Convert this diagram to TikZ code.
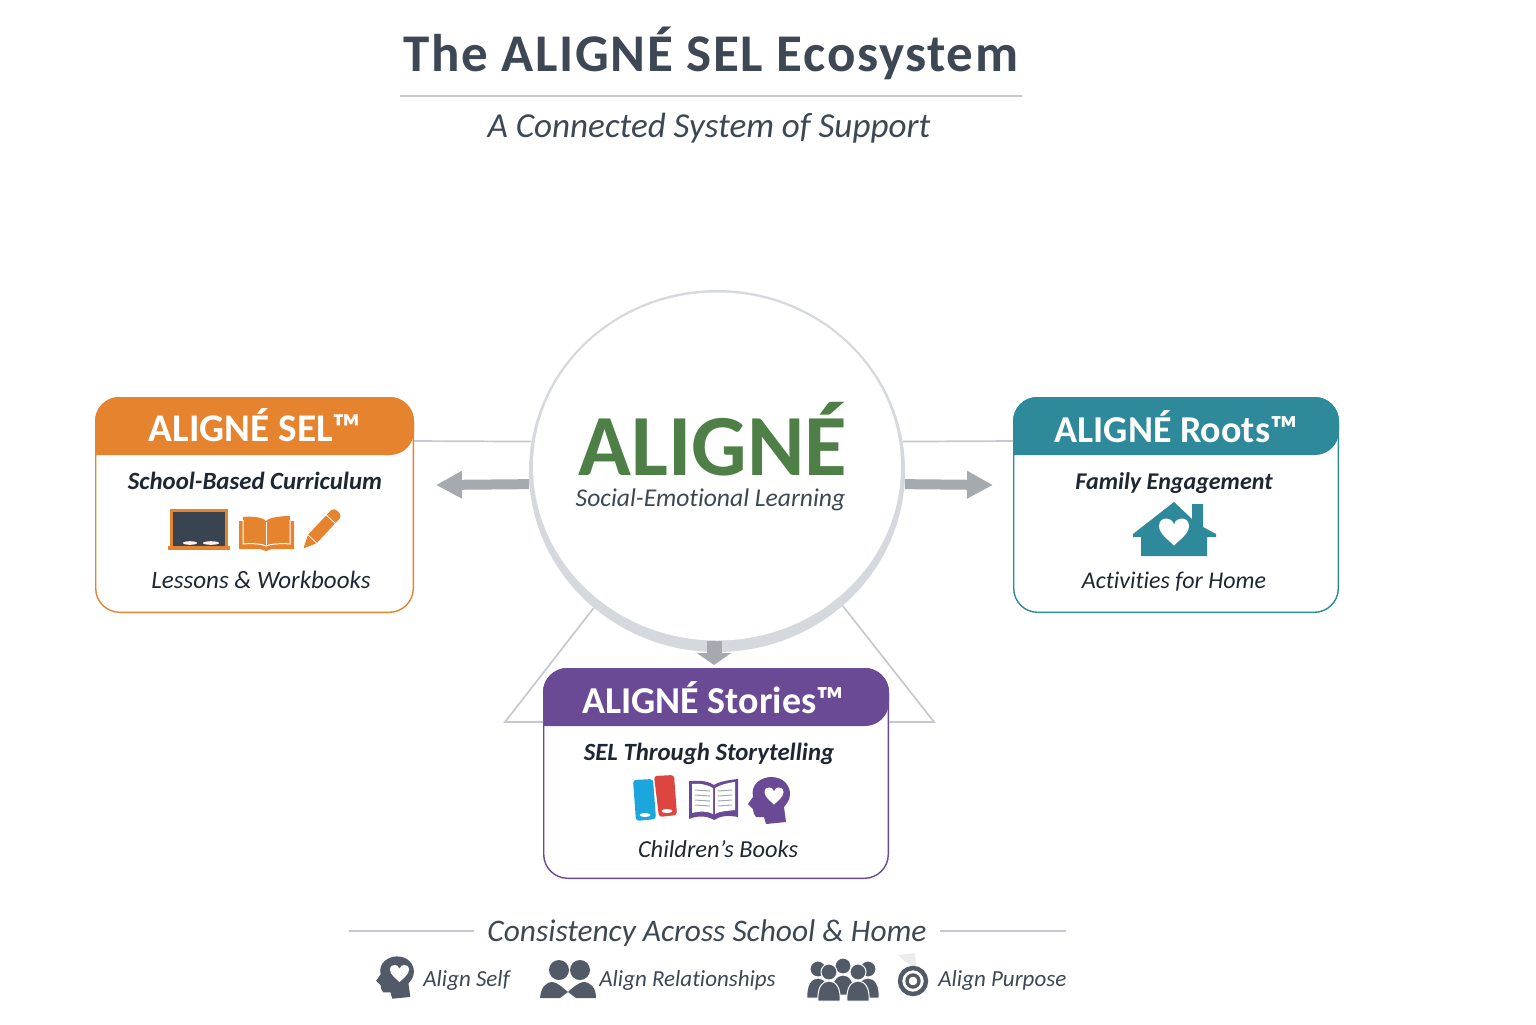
\documentclass[tikz,border=0pt]{standalone}
\usepackage{fontspec}
\setmainfont[Ligatures={TeX,NoCommon}]{Carlito}
\usepackage{xcolor}
\usepackage{tikz}
\usetikzlibrary{arrows.meta, positioning, shapes.geometric}

\definecolor{titlegray}{HTML}{3E4754}
\definecolor{rulegray}{HTML}{C5C9CF}
\definecolor{ringgray}{HTML}{D5D9DE}
\definecolor{arrowgray}{HTML}{A5A9B0}
\definecolor{inkdark}{HTML}{1F2733}
\definecolor{iconslate}{HTML}{515A66}
\definecolor{boarddark}{HTML}{3A4350}
\definecolor{selorange}{HTML}{E6832F}
\definecolor{rootsteal}{HTML}{2E8A9A}
\definecolor{storiespurple}{HTML}{6A4A94}
\definecolor{alignegreen}{HTML}{4E7F46}
\definecolor{bookblue}{HTML}{1BA6DD}
\definecolor{bookred}{HTML}{DD4540}

\newcommand{\headband}[3]{%
  \fill[#3, rounded corners=12pt] (#1.west |- #2) -- (#1.north west)
    -- (#1.north east) -- (#1.east |- #2) [sharp corners] -- cycle;}

\tikzset{
    pics/hearticon/.style={code={
        \fill[white] (0,9) .. controls (-4,5) and (-10,1) .. (-10,-4)
            .. controls (-10,-8) and (-7,-9) .. (-5,-9)
            .. controls (-3,-9) and (-1,-8) .. (0,-5)
            .. controls (1,-8) and (3,-9) .. (5,-9)
            .. controls (7,-9) and (10,-8) .. (10,-4)
            .. controls (10,1) and (4,5) .. (0,9) -- cycle;
    }},
    pics/headicon/.style={code={
        \fill[#1] (17,21) -- (-3,23) -- (-5,16) .. controls (-9,17) .. (-13,16)
            .. controls (-15,14) and (-16,11) .. (-16,8) -- (-21,3) -- (-16,-4)
            .. controls (-19,-18) and (-6,-24) .. (2,-24)
            .. controls (15,-24) and (21,-15) .. (21,-7)
            .. controls (21,0) and (17,3) .. (15,6) -- cycle;
        \pic[scale=.95] at (5,-5) {hearticon};
    }},
    pics/personicon/.style={code={
        \fill[iconslate, draw=white, line width=.5pt] (-11,17) .. controls (-12,4) and (-7,-3) .. (0,-3)
            .. controls (7,-3) and (12,4) .. (11,17) -- cycle;
        \fill[iconslate, draw=white, line width=.5pt] (0,-12) circle (8);
    }}
}

\begin{document}
\begin{tikzpicture}[
    x=.5pt, y=-.5pt,
    titletext/.style={font=\fontsize{26.5pt}{30pt}\bfseries\addfontfeature{LetterSpace=3}, text=titlegray},
    subtext/.style={font=\fontsize{17.55pt}{22pt}\itshape, text=titlegray},
    hub/.style={ellipse, minimum width=188pt, minimum height=181pt, inner sep=0pt},
    card/.style={draw, line width=.7pt, fill=white, rounded corners=12pt, minimum height=107.3pt},
    headtext/.style={font=\fontsize{19pt}{22pt}\bfseries, text=white},
    tagtext/.style={font=\fontsize{12.4pt}{16pt}\bfseries\itshape, text=inkdark},
    itemtext/.style={font=\fontsize{12.2pt}{16pt}\itshape, text=inkdark},
    alignlabel/.style={font=\fontsize{11.5pt}{14pt}\itshape, text=titlegray, anchor=west, inner sep=0pt},
    thinline/.style={draw=rulegray, line width=.85pt},
    arrow/.style={-{Triangle[width=13pt,length=13pt]}, draw=arrowgray, fill=arrowgray, line width=5pt}
]
\useasboundingbox (0,0) rectangle (1536,1024);

% title
\node[titletext] (title) at (711,53) {The ALIGNÉ SEL Ecosystem};
\coordinate (ruleleft) at (400,96);
\coordinate (ruleright) at (1022,96);
\draw[thinline] (ruleleft) -- (ruleright);
\node[subtext] (subtitle) at (709,128) {A Connected System of Support};

% centre
\node[hub, fill=ringgray] (hubring) at (717,471) {};
\node[hub, fill=white, minimum width=184pt, minimum height=174pt] (hubface) at (717,466.5) {};

% cards
\node[card, draw=selorange, minimum width=158.8pt] (selbox) at (254.5,505) {};
\node[card, draw=rootsteal, minimum width=162.3pt] (rootsbox) at (1176,505) {};
\node[card, draw=storiespurple, minimum width=172.3pt, minimum height=104.8pt] (storiesbox) at (716,773.5) {};
\coordinate (selband) at (254.5,455);
\coordinate (rootsband) at (1176,455);
\coordinate (storiesband) at (716,726);
\headband{selbox}{selband}{selorange}
\headband{rootsbox}{rootsband}{rootsteal}
\headband{storiesbox}{storiesband}{storiespurple}

% thin links
\coordinate (sellink) at (414,441);
\coordinate (rootslink) at (1013,441);
\coordinate (trileft) at (505,722);
\coordinate (triright) at (934,722);
\draw[thinline] (hubring.171) -- (sellink);
\draw[thinline] (hubring.9) -- (rootslink);
\draw[thinline] (hubring.228) -- (trileft) -- (trileft -| storiesbox.west);
\draw[thinline] (hubring.-47) -- (triright) -- (triright -| storiesbox.east);

% thick arrows
\coordinate (selarrow) at (436,485);
\coordinate (rootsarrow) at (993,485);
\coordinate (storiesarrow) at (714,665);
\draw[arrow] (hubring.184) -- (selarrow);
\draw[arrow] (hubring.-4) -- (rootsarrow);
\draw[arrow, line width=7.5pt, -{Triangle[width=17pt,length=6pt]}] (hubface.south -| storiesarrow) -- (storiesarrow);

% centre text
\node[font=\fontsize{43.6pt}{44pt}\bfseries, text=alignegreen, inner sep=0pt] (hubname) at (713,439) {ALIGNÉ};
\node[font=\fontsize{12.8pt}{16pt}\itshape, text=titlegray, inner sep=0pt] (hubtag) at (710.5,500) {Social-Emotional Learning};

% orange card
\node[headtext, font=\fontsize{19.6pt}{22pt}\bfseries] (selhead) at (255,425) {ALIGNÉ SEL™};
\node[tagtext] (seltag) at (255,481) {School-Based Curriculum};
\node[itemtext, font=\fontsize{12.5pt}{16pt}\itshape] (selitem) at (261,580) {Lessons \& Workbooks};

% blackboard
\fill[selorange] (170,509) rectangle (228,547);
\fill[boarddark] (173,512) rectangle (225,546);
\fill[selorange] (168,546) rectangle (230,550);
\fill[white!90!selorange] (190,543) ellipse (7 and 1.8);
\fill[white!90!selorange] (211,543) ellipse (8 and 1.8);

% open book
\fill[selorange] (239,521) -- (243,521) -- (243,517) .. controls (252,516) and (262,517) .. (266,521)
    .. controls (270,517) and (282,516) .. (290,516) -- (290,521) -- (294,521) -- (294,549)
    -- (272,549) -- (266,551) -- (260,549) -- (239,549) -- cycle;
\draw[white, line width=.5pt] (266,522) -- (266,545);
\draw[white, line width=.5pt] (243,520) -- (243,544) .. controls (252,543) and (262,544) .. (266,546)
    .. controls (270,544) and (282,543) .. (290,544) -- (290,520);

% pencil
\begin{scope}[shift={(303.5,548.5)}, rotate=47]
\fill[selorange] (0,0) -- (13,-6) -- (47,-6) .. controls (52,-6) and (52,6) .. (47,6) -- (13,6) -- cycle;
\draw[white, line width=.4pt] (13,-6) -- (13,6) (40,-6) -- (40,6);
\end{scope}

% teal card
\node[headtext] (rootshead) at (1176,427) {ALIGNÉ Roots™};
\node[tagtext, font=\fontsize{12pt}{16pt}\bfseries\itshape] (rootstag) at (1174,483) {Family Engagement};
\node[itemtext, font=\fontsize{12pt}{16pt}\itshape] (rootsitem) at (1174,582) {Activities for Home};
\fill[rootsteal] (1192,519) -- (1192,504) -- (1203,504) -- (1203,527) -- (1216,534) -- (1216,537)
    -- (1207,537) -- (1207,556) -- (1141,556) -- (1141,537) -- (1133,537) -- (1133,534) -- (1174,502) -- cycle;
\pic[scale=1.5] (rootsheart) at (1174,532) {hearticon};

% purple card
\node[headtext] (storieshead) at (713,698) {ALIGNÉ Stories™};
\node[tagtext] (storiestag) at (709,754) {SEL Through Storytelling};
\node[itemtext] (storiesitem) at (718,849) {Children's Books};

% stacked books
\fill[bookblue, rounded corners=1.5pt] (633,780) -- (653,779) -- (656,819) -- (636,821) -- cycle;
\fill[bookred, rounded corners=1.5pt] (654,776) -- (674,775) -- (677,815) -- (659,817) -- cycle;
\fill[white] (645,815) ellipse (5.5 and 2);
\fill[white] (667,811) ellipse (5.5 and 2);

% storybook
\fill[storiespurple] (689,781) -- (692,781) .. controls (702,780) and (710,782) .. (714,785)
    .. controls (718,782) and (728,780) .. (738,779) -- (738,817) .. controls (728,815) and (720,816) .. (714,820)
    .. controls (708,816) and (698,815) .. (689,819) -- cycle;
\fill[white] (692,784) .. controls (700,783) and (708,785) .. (713,788) -- (713,814)
    .. controls (708,811) and (700,811) .. (692,813) -- cycle;
\fill[white] (735,782) .. controls (727,783) and (720,785) .. (715,788) -- (715,814)
    .. controls (720,811) and (727,811) .. (735,810) -- cycle;
\foreach \row in {790,795,800,805} {
    \draw[arrowgray, line width=.5pt] (695,\row) -- (710,\row+1);
    \draw[arrowgray, line width=.5pt] (718,\row+1) -- (732,\row);
}
\pic (storiesmind) at (769,801) {headicon=storiespurple};

% footer
\node[font=\fontsize{15.7pt}{20pt}\itshape, text=titlegray, inner xsep=6.5pt] (footer) at (707,933) {Consistency Across School \& Home};
\coordinate (footleft) at (349,931);
\coordinate (footright) at (1066,931);
\draw[thinline] (footleft) -- (footleft -| footer.west);
\draw[thinline] (footright -| footer.east) -- (footright);

\pic[scale=.9] (selficon) at (395,978) {headicon=iconslate};
\node[alignlabel] (selflabel) at (423,980) {Align Self};

% pair of people
\fill[iconslate] (559,970) circle (10);
\fill[iconslate] (580,970) circle (10);
\fill[iconslate] (540,998) .. controls (541,988) and (545,982) .. (553,982)
    .. controls (558,983) and (563,988) .. (568,992) .. controls (572,988) and (578,983) .. (583,982)
    .. controls (591,982) and (596,988) .. (596,998) -- (576,998) -- (568,992) -- (560,998) -- cycle;
\node[alignlabel] (pairlabel) at (599,980) {Align Relationships};

% group of people
\pic (groupa) at (818,981) {personicon};
\pic (groupb) at (868,981) {personicon};
\pic (groupc) at (843,978) {personicon};
\pic (groupd) at (829,984) {personicon};
\pic (groupe) at (858,984) {personicon};

% target
\fill[gray!15] (898,955) -- (915,953) -- (917,972) -- cycle;
\draw[iconslate, line width=2.2pt] (913,981) circle (13);
\draw[iconslate, line width=1.7pt] (913,981) circle (6);
\node[alignlabel] (purposelabel) at (938,980) {Align Purpose};

\end{tikzpicture}
\end{document}
